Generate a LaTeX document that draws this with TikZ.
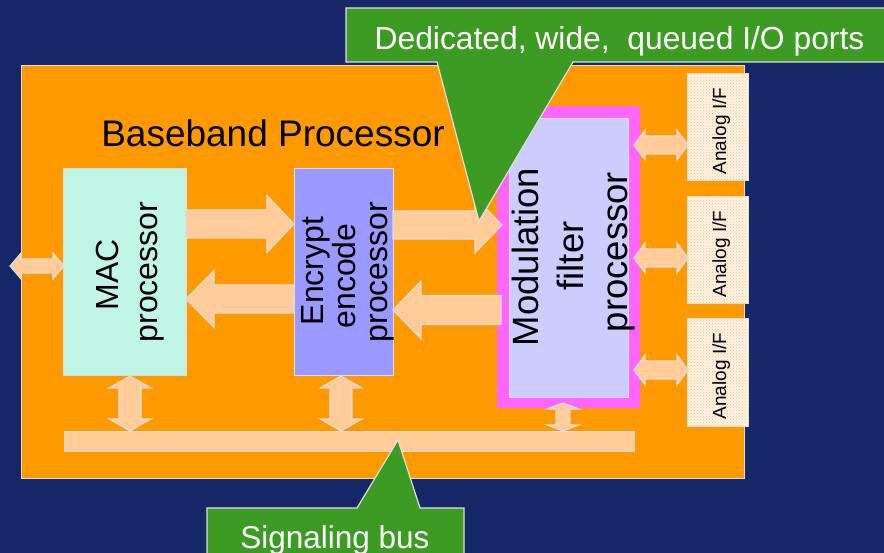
\documentclass[tikz,border=0pt]{standalone}
\usepackage{fontspec}
\setmainfont{Liberation Sans}
\usetikzlibrary{patterns}

\definecolor{navy}{RGB}{23,40,104}
\definecolor{bandorange}{RGB}{255,153,0}
\definecolor{edgegray}{RGB}{222,222,222}
\definecolor{peach}{RGB}{255,204,153}
\definecolor{mint}{RGB}{192,245,230}
\definecolor{periwinkle}{RGB}{153,153,255}
\definecolor{lavender}{RGB}{204,204,255}
\definecolor{magentaedge}{RGB}{255,102,255}
\definecolor{calloutgreen}{RGB}{60,155,35}
\definecolor{cream}{RGB}{255,243,228}
\definecolor{dotpeach}{RGB}{248,196,145}

% horizontal single block arrow: tail x, tip x, centre y, shaft half, head half, head length (signed)
\newcommand\harrow[6]{%
  \filldraw[blockarrow] (#1,#3-#4) -- ({#2-(#6)},#3-#4) -- ({#2-(#6)},#3-#5) -- (#2,#3)
    -- ({#2-(#6)},#3+#5) -- ({#2-(#6)},#3+#4) -- (#1,#3+#4) -- cycle;}
% horizontal double block arrow: left tip x, right tip x, centre y, shaft half, head half, head length
\newcommand\dharrow[6]{%
  \filldraw[blockarrow] (#1,#3) -- (#1+#6,#3-#5) -- (#1+#6,#3-#4) -- (#2-#6,#3-#4) -- (#2-#6,#3-#5)
    -- (#2,#3) -- (#2-#6,#3+#5) -- (#2-#6,#3+#4) -- (#1+#6,#3+#4) -- (#1+#6,#3+#5) -- cycle;}
% vertical double block arrow: top tip y, bottom tip y, centre x, shaft half, head half, head length
\newcommand\dvarrow[6]{%
  \filldraw[blockarrow] (#3,#1) -- (#3+#5,#1+#6) -- (#3+#4,#1+#6) -- (#3+#4,#2-#6) -- (#3+#5,#2-#6)
    -- (#3,#2) -- (#3-#5,#2-#6) -- (#3-#4,#2-#6) -- (#3-#4,#1+#6) -- (#3-#5,#1+#6) -- cycle;}

\begin{document}
\begin{tikzpicture}[x=1pt,y=-1pt,
  blockarrow/.style={fill=peach,draw=edgegray,line width=1.1pt,line join=miter},
  unit/.style={draw=edgegray,line width=0.8pt,inner sep=0pt,anchor=north west},
  analog/.style={unit,fill=cream,postaction={pattern=crosshatch dots,pattern color=dotpeach},
    minimum width=61pt},
  vlabel/.style={rotate=90,anchor=base,inner sep=0pt,text=black},
  callout/.style={fill=calloutgreen,draw=edgegray,line width=1.2pt,line join=miter}]

\useasboundingbox (0,0) rectangle (884,553);
\fill[navy] (0,0) rectangle (884,553);

% the baseband processor board
\node[unit,fill=bandorange,draw=edgegray,line width=1pt,minimum width=723pt,minimum height=413pt]
  (board) at (21,65) {};
\node[anchor=base,inner sep=0pt,font=\fontsize{37}{40}\selectfont] (title) at (273,147) {Baseband Processor};

% processing units
\node[unit,fill=mint,minimum width=123pt,minimum height=207pt] (mac) at (63,168) {};
\node[unit,fill=periwinkle,minimum width=99pt,minimum height=207pt] (enc) at (294,168) {};
\node[unit,fill=magentaedge,draw=none,minimum width=143pt,minimum height=302pt] (modframe) at (497,106) {};
\node[unit,fill=lavender,draw=lavender!70!white,minimum width=119pt,minimum height=279pt] (mod) at (509,118) {};

% analog interfaces
\node[analog,minimum height=107pt] (af1) at (687,73) {};
\node[analog,minimum height=107pt] (af2) at (687,196) {};
\node[analog,minimum height=108pt] (af3) at (687,318) {};

% signaling bus
\node[unit,fill=peach,line width=1.1pt,minimum width=570pt,minimum height=20pt] (bus) at (64,431) {};

% unit labels
\begin{scope}[font=\fontsize{32}{38}\selectfont]
  \node[vlabel] (mac1) at (118,275) {MAC};
  \node[vlabel] (mac2) at (157,272) {processor};
  \node[vlabel] (enc1) at (323,271) {Encrypt};
  \node[vlabel] (enc2) at (355,276) {encode};
  \node[vlabel] (enc3) at (387,272) {processor};
\end{scope}
\begin{scope}[font=\fontsize{36.5}{44}\selectfont]
  \node[vlabel] (mod1) at (538,257) {Modulation};
  \node[vlabel] (mod2) at (583,256) {filter};
  \node[vlabel] (mod3) at (627,252) {processor};
\end{scope}
\begin{scope}[font=\fontsize{19}{22}\selectfont]
  \node[vlabel] (afl1) at (726,131) {Analog I/F};
  \node[vlabel] (afl2) at (726,254) {Analog I/F};
  \node[vlabel] (afl3) at (726,376) {Analog I/F};
\end{scope}

% data paths
\dharrow{10}{64}{266}{7}{13}{11}
\harrow{186}{294}{224}{14}{28.5}{27}
\harrow{294}{186}{299}{14}{28.5}{-28}
\harrow{393}{502}{225}{14}{28}{27}
\harrow{501}{393}{310}{14.5}{29}{-28}
\dharrow{634}{688}{145}{9}{15}{11}
\dharrow{634}{688}{258}{9}{15}{11}
\dharrow{634}{688}{370}{9}{15}{11}
\dvarrow{376}{431}{130}{11}{21}{12}
\dvarrow{376}{431}{341}{11}{21}{12}
\dvarrow{403}{431}{563}{7}{16}{6}

% callouts
\filldraw[callout] (346,8) -- (890,8) -- (890,62) -- (573,62) -- (479,221) -- (437,62) -- (346,62) -- cycle;
\node[anchor=base,inner sep=0pt,text=white,font=\fontsize{31.8}{36}\selectfont] (ports) at (619.5,50)
  {Dedicated, wide,\ \ queued I/O ports};
\filldraw[callout] (207,508) -- (357,508) -- (398,440) -- (420,508) -- (464,508) -- (464,560) -- (207,560) -- cycle;
\node[anchor=base,inner sep=0pt,text=white,font=\fontsize{31.5}{36}\selectfont] (buslabel) at (335,548)
  {Signaling bus};
\end{tikzpicture}
\end{document}
